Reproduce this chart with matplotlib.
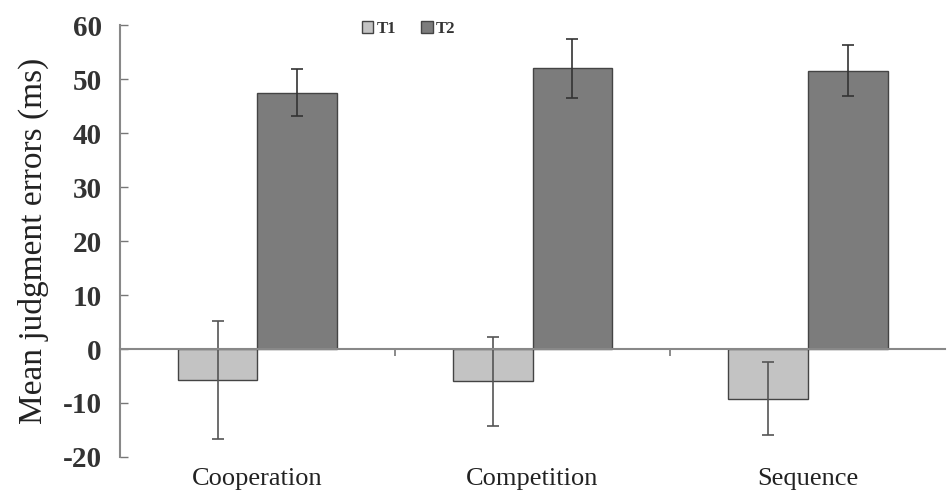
import numpy as np
import matplotlib
matplotlib.use("Agg")
import matplotlib.pyplot as plt

categories = ["Cooperation", "Competition", "Sequence"]
t1_mean = [-5.7, -6.0, -9.2]
t1_err = [10.9, 8.2, 6.8]
t2_mean = [47.5, 52.0, 51.6]
t2_err = [4.3, 5.4, 4.8]

plt.rcParams['font.family'] = ['Liberation Serif', 'DejaVu Serif']
plt.rcParams['axes.unicode_minus'] = False

fig = plt.figure(figsize=(9.51, 4.94), dpi=100)
ax = fig.add_axes([0.126, 0.075, 0.868, 0.874])

x = np.arange(len(categories))
w = 0.29
ax.bar(x - w/2, t1_mean, w, color='#c3c3c3', edgecolor='#444444', linewidth=1.0,
       yerr=t1_err, error_kw=dict(ecolor='#555555', elinewidth=1.2, capsize=4, capthick=1.2),
       label='T1')
ax.bar(x + w/2, t2_mean, w, color='#7c7c7c', edgecolor='#444444', linewidth=1.0,
       yerr=t2_err, error_kw=dict(ecolor='#333333', elinewidth=1.2, capsize=4, capthick=1.2),
       label='T2')

ax.set_xlim(-0.5, 2.5)
ax.set_ylim(-20, 60)
ax.set_yticks(range(-20, 61, 10))
ax.tick_params(axis='y', direction='in', length=6, width=1, color='#777777',
               labelsize=21, pad=13)
for t in ax.get_yticklabels():
    t.set_fontweight('bold')
    t.set_color('#333333')

ax.spines['top'].set_visible(False)
ax.spines['right'].set_visible(False)
ax.spines['left'].set_color('#888888')
ax.spines['left'].set_linewidth(1.5)
ax.spines['bottom'].set_position(('data', 0))
ax.spines['bottom'].set_color('#888888')
ax.spines['bottom'].set_linewidth(1.5)

ax.set_xticks(x)
ax.set_xticklabels(categories, fontsize=19, color='#222222')
ax.set_xticks([0.5, 1.5], minor=True)
ax.tick_params(axis='x', which='major', length=0, pad=86)
ax.tick_params(axis='x', which='minor', length=5, width=1.2, color='#777777', direction='out')

ax.set_ylabel('Mean judgment errors (ms)', fontsize=24, color='#222222', labelpad=10)

leg = ax.legend(loc='upper center', bbox_to_anchor=(0.35, 1.045), ncol=2, frameon=False,
                handlelength=0.7, handleheight=0.7, handletextpad=0.2,
                columnspacing=1.5, prop={'weight': 'bold', 'size': 12})
for t in leg.get_texts():
    t.set_color('#333333')

fig.savefig('out.png', dpi=100)
